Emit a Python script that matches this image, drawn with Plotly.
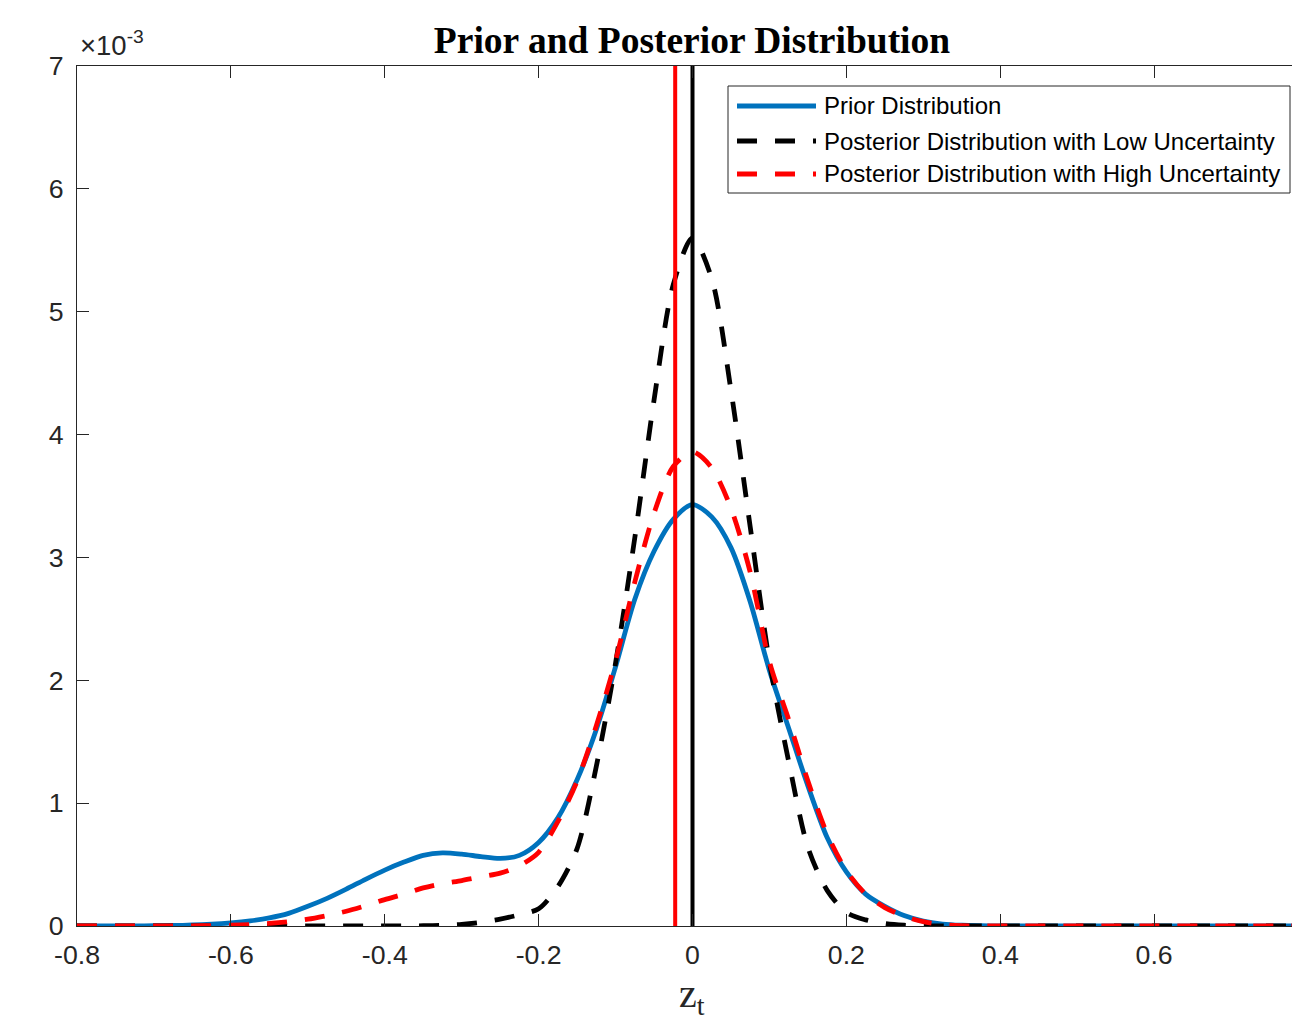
import plotly.graph_objects as go

# ---- data (density values in units of 1e-3) ----
z_grid = [round(-0.8 + 0.025 * i, 3) for i in range(65)]

prior = [0, 0, 0, 0.001, 0.002, 0.004, 0.008, 0.015, 0.026, 0.042, 0.066, 0.103,
         0.16, 0.225, 0.30, 0.38, 0.455, 0.52, 0.575, 0.595, 0.585, 0.565, 0.55, 0.575,
         0.68, 0.88, 1.19, 1.60, 2.11, 2.66, 3.05, 3.31, 3.43, 3.33, 3.08, 2.64,
         2.08, 1.61, 1.14, 0.72, 0.44, 0.26, 0.16, 0.085, 0.04, 0.016, 0.006, 0.002,
         0, 0, 0, 0, 0, 0, 0, 0, 0, 0, 0, 0, 0, 0, 0, 0, 0]

post_low = [0, 0, 0, 0, 0, 0, 0, 0, 0, 0, 0, 0,
            0, 0, 0, 0, 0, 0, 0.002, 0.006, 0.014, 0.03, 0.056, 0.092,
            0.14, 0.32, 0.63, 1.30, 2.14, 3.16, 4.28, 5.22, 5.60, 5.27, 4.36, 3.25,
            2.15, 1.34, 0.64, 0.29, 0.11, 0.05, 0.02, 0.006, 0.001, 0, 0, 0,
            0, 0, 0, 0, 0, 0, 0, 0, 0, 0, 0, 0, 0, 0, 0, 0, 0]

post_high = [0, 0, 0, 0, 0, 0, 0.001, 0.003, 0.006, 0.012, 0.021, 0.035,
             0.055, 0.085, 0.12, 0.165, 0.215, 0.26, 0.31, 0.345, 0.37, 0.40, 0.43, 0.49,
             0.60, 0.85, 1.18, 1.63, 2.16, 2.80, 3.36, 3.74, 3.86, 3.73, 3.40, 2.88,
             2.15, 1.68, 1.18, 0.75, 0.45, 0.26, 0.15, 0.08, 0.035, 0.012, 0.003, 0,
             0, 0, 0, 0, 0, 0, 0, 0, 0, 0, 0, 0, 0, 0, 0, 0, 0]

mean_high = -0.0225   # red vertical line
mean_low = 0.0        # black vertical line

x_ticks = [-0.8, -0.6, -0.4, -0.2, 0, 0.2, 0.4, 0.6, 0.8]
x_ticktext = ["-0.8", "-0.6", "-0.4", "-0.2", "0", "0.2", "0.4", "0.6", "0.8"]
y_ticks = [0, 1, 2, 3, 4, 5, 6, 7]

series_names = ["Prior Distribution",
                "Posterior Distribution with Low Uncertainty",
                "Posterior Distribution with High Uncertainty"]

BLUE = "#0072BD"
RED = "#FF0000"
BLACK = "#000000"
AXC = "#262626"
DASH = "20px,18px"
LW = 4.8

scale = 1e-3
fig = go.Figure()
fig.add_trace(go.Scatter(x=z_grid, y=[v * scale for v in prior], mode="lines",
                         name=series_names[0], line=dict(color=BLUE, width=LW, shape="spline", smoothing=0.8)))
fig.add_trace(go.Scatter(x=z_grid, y=[v * scale for v in post_low], mode="lines",
                         name=series_names[1], line=dict(color=BLACK, width=LW, dash=DASH, shape="spline", smoothing=0.8)))
fig.add_trace(go.Scatter(x=z_grid, y=[v * scale for v in post_high], mode="lines",
                         name=series_names[2], line=dict(color=RED, width=LW, dash=DASH, shape="spline", smoothing=0.8)))
fig.add_trace(go.Scatter(x=[mean_high, mean_high], y=[0, 7 * scale], mode="lines",
                         name="High uncertainty mean", line=dict(color=RED, width=4)))
fig.add_trace(go.Scatter(x=[mean_low, mean_low], y=[0, 7 * scale], mode="lines",
                         name="Low uncertainty mean", line=dict(color=BLACK, width=4)))

# page body has an 8px margin; the figure's right part runs past the window edge (as in the reference)
OFF = 8
W, H = 1300, 1008
L, R, T, B = 69, 0, 58, 90
pw, ph = W - L - R, H - T - B

def px2x(px):  # screen px -> paper x
    return (px - OFF - L) / pw

def py2y(py):  # screen py -> paper y
    return (OFF + T + ph - py) / ph

fig.update_layout(
    width=W, height=H,
    margin=dict(l=L, r=R, t=T, b=B, autoexpand=False),
    paper_bgcolor="white", plot_bgcolor="white",
    showlegend=False,
    title=dict(text="<b>Prior and Posterior Distribution</b>",
               font=dict(family="Liberation Serif, Times New Roman, serif", size=37.5, color="black"),
               x=(692 - OFF) / W, xref="container", xanchor="center",
               y=1 - (40 - OFF) / H, yref="container", yanchor="middle"),
    font=dict(family="Liberation Sans, Arial, sans-serif", color=AXC),
)

fig.update_xaxes(range=[-0.8, 0.8], tickvals=x_ticks, ticktext=x_ticktext,
                 ticks="inside", ticklen=12, tickcolor=AXC, tickwidth=1,
                 showline=True, linecolor=AXC, linewidth=1, mirror="allticks",
                 showgrid=False, zeroline=False,
                 tickfont=dict(size=26.7, color=AXC), ticklabelstandoff=5)
fig.update_yaxes(range=[0, 7 * scale], tickvals=[v * scale for v in y_ticks],
                 ticktext=[str(v) for v in y_ticks],
                 ticks="inside", ticklen=12, tickcolor=AXC, tickwidth=1,
                 showline=True, linecolor=AXC, linewidth=1, mirror="allticks",
                 showgrid=False, zeroline=False,
                 tickfont=dict(size=26.7, color=AXC), ticklabelstandoff=7)

# x-axis label (z_t), placed just below the tick labels
fig.add_annotation(text="z<sub>t</sub>", xref="paper", yref="paper", x=px2x(692), y=py2y(969),
                   xanchor="center", yanchor="top", showarrow=False,
                   font=dict(family="Liberation Serif, Times New Roman, serif", size=40, color=AXC))

# exponent label
fig.add_annotation(text="\u00d710<sup>-3</sup>", xref="paper", yref="paper", x=px2x(78), y=py2y(63),
                   xanchor="left", yanchor="bottom", showarrow=False,
                   font=dict(size=27.5, color=AXC))

# ---- legend (MATLAB style box) ----
fig.add_shape(type="rect", xref="paper", yref="paper",
              x0=px2x(728), x1=px2x(1290), y0=py2y(193), y1=py2y(86),
              line=dict(color=AXC, width=1), fillcolor="white", layer="above")
rows = [106, 141, 174]
styles = [dict(color=BLUE, width=LW), dict(color=BLACK, width=LW, dash=DASH), dict(color=RED, width=LW, dash=DASH)]
for name, ry, st in zip(series_names, rows, styles):
    fig.add_shape(type="line", xref="paper", yref="paper", x0=px2x(737), x1=px2x(816),
                  y0=py2y(ry), y1=py2y(ry), line=st, layer="above")
    fig.add_annotation(text=name, xref="paper", yref="paper", x=px2x(822), y=py2y(ry),
                       xanchor="left", yanchor="middle", showarrow=False,
                       font=dict(size=24, color="black"))

fig.write_html("out.html")
